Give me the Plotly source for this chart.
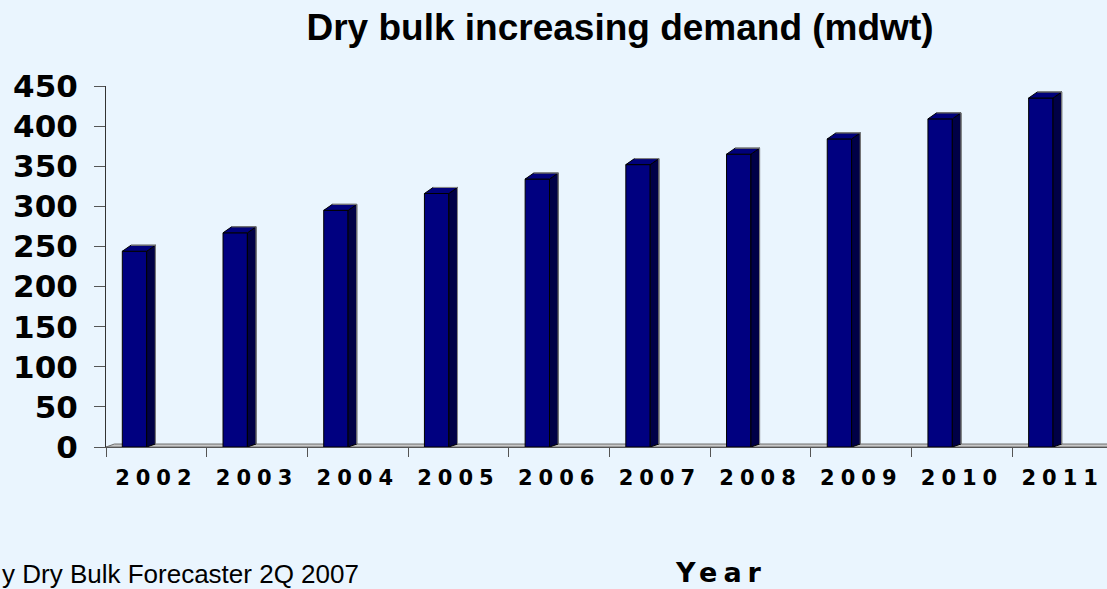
import plotly.graph_objects as go

# Dry bulk demand, million dwt
years = ["2002", "2003", "2004", "2005", "2006", "2007", "2008", "2009", "2010", "2011"]
demand = [244, 267, 295, 316, 334, 352, 365, 384, 409, 435]
y_ticks = [0, 50, 100, 150, 200, 250, 300, 350, 400, 450]

BG = "#EAF5FE"
FRONT = "#000080"
SIDE = "#000046"
TOP = "#00007A"

# pseudo-3D geometry (in axis units)
X_MIN, X_MAX = -0.5, 9.44
BAR_OFF = 0.283 - 0.5      # front-face centre relative to category centre
BAR_W = 0.242
DX, DY = 0.086, 7.5         # depth offset of the column
FLOOR_DX, FLOOR_DY = 0.083, 3.7

idx = list(range(len(years)))
bar_x = [i + BAR_OFF for i in idx]

fig = go.Figure()

# front faces
fig.add_trace(go.Bar(
    x=bar_x, y=demand, width=BAR_W,
    marker=dict(color=FRONT, line=dict(color="#000000", width=1)),
    hoverinfo="skip", showlegend=False,
))

# side and top faces
side_x, side_y, top_x, top_y, edge_x, edge_y = [], [], [], [], [], []
for xc, v in zip(bar_x, demand):
    x0, x1 = xc - BAR_W / 2, xc + BAR_W / 2
    side_x += [x1, x1, x1 + DX, x1 + DX, x1, None]
    side_y += [0, v, v + DY, FLOOR_DY, 0, None]
    top_x += [x0, x1, x1 + DX, x0 + DX, x0, None]
    top_y += [v, v, v + DY, v + DY, v, None]
    edge_x += [x0 + DX, x1 + DX, x1 + DX, None]
    edge_y += [v + DY, v + DY, FLOOR_DY, None]

fig.add_trace(go.Scatter(x=side_x, y=side_y, mode="lines", fill="toself",
                         fillcolor=SIDE, line=dict(color="#000000", width=1),
                         hoverinfo="skip", showlegend=False))
fig.add_trace(go.Scatter(x=top_x, y=top_y, mode="lines", fill="toself",
                         fillcolor=TOP, line=dict(color="#000000", width=1),
                         hoverinfo="skip", showlegend=False))
fig.add_trace(go.Scatter(x=edge_x, y=edge_y, mode="lines",
                         line=dict(color="#8a8a8a", width=1),
                         hoverinfo="skip", showlegend=False))

# thin floor slab
fig.add_shape(
    type="path", xref="x", yref="y", layer="below",
    path=(f"M {X_MIN},0 L {X_MAX + 1},0 L {X_MAX + 1},{FLOOR_DY} "
          f"L {X_MIN + FLOOR_DX},{FLOOR_DY} Z"),
    fillcolor="#C8C8C8", line=dict(color="#6e6e6e", width=1),
)

tick_font = dict(family="DejaVu Sans", size=31, color="#000000", weight=700)

PLOT_L, PLOT_W, PLOT_H, PLOT_B = 106, 1001, 361, 447

fig.update_layout(
    width=1107, height=589,
    margin=dict(l=106, r=0, t=86, b=142),
    paper_bgcolor=BG, plot_bgcolor=BG,
    showlegend=False,
    title=dict(
        text="<b>Dry bulk increasing demand (mdwt)</b>",
        font=dict(family="Liberation Sans", size=37, color="#000000"),
        xref="container", x=620 / 1107, xanchor="center",
        yref="container", y=1 - 27 / 589, yanchor="middle",
    ),
    xaxis=dict(
        range=[X_MIN, X_MAX],
        tickmode="array", tickvals=idx,
        ticktext=[f'<span style="letter-spacing:6px">{y}</span>' for y in years],
        ticks="", showgrid=False, zeroline=False,
        showline=True, linecolor="#555555", linewidth=1,
        tickfont=dict(family="DejaVu Sans", size=21, color="#000000", weight=700),
        ticklabelstandoff=12,
        minor=dict(tickmode="linear", tick0=-0.5, dtick=1, ticks="outside",
                   ticklen=9, tickcolor="#555555", tickwidth=1, showgrid=False),
    ),
    yaxis=dict(
        range=[0, 450], tickmode="array", tickvals=y_ticks,
        ticks="outside", ticklen=11, tickcolor="#555555", tickwidth=1,
        showline=True, linecolor="#333333", linewidth=1,
        showgrid=False, zeroline=False,
        tickfont=tick_font, ticklabelstandoff=10,
    ),
    annotations=[
        dict(text='<b><span style="letter-spacing:6px">Year</span></b>',
             xref="paper", yref="paper",
             x=(673 - PLOT_L) / PLOT_W, y=-(572 - PLOT_B) / PLOT_H,
             xanchor="left", yanchor="middle", showarrow=False,
             font=dict(family="DejaVu Sans", size=27, color="#000000")),
        dict(text="y Dry Bulk Forecaster 2Q 2007", xref="paper", yref="paper",
             x=(0 - PLOT_L) / PLOT_W, y=-(574 - PLOT_B) / PLOT_H,
             xanchor="left", yanchor="middle", showarrow=False,
             font=dict(family="Liberation Sans", size=26, color="#000000")),
    ],
)

fig.write_html("out.html")
